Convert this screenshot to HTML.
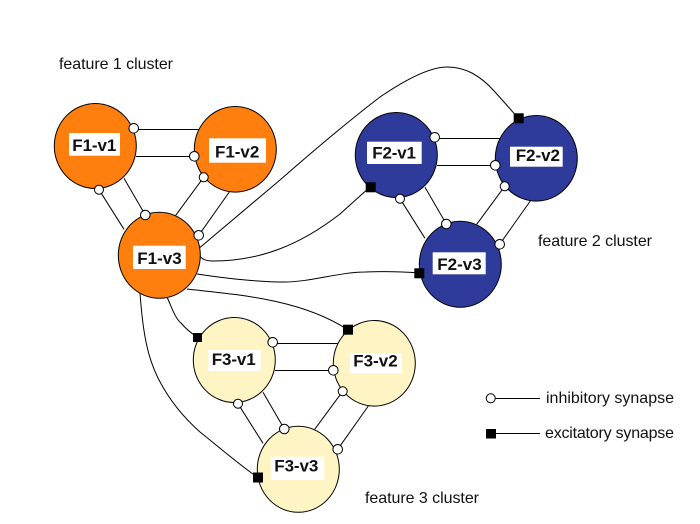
<!DOCTYPE html>
<html><head><meta charset="utf-8"><style>
html,body{margin:0;padding:0;background:#fff;width:700px;height:524px;overflow:hidden}
svg{display:block}
.t{font-family:"Liberation Sans",sans-serif;font-size:16px;fill:#111}
.b{font-family:"Liberation Sans",sans-serif;font-size:17px;font-weight:bold;fill:#111}
.l{stroke:#000;stroke-width:1;fill:none}
.n{stroke:#000;stroke-width:1}
.i{fill:#fff;stroke:#000;stroke-width:1}
</style></head><body>
<svg width="700" height="524" viewBox="0 0 700 524" xmlns="http://www.w3.org/2000/svg">
<rect width="700" height="524" fill="#fff"/>

<!-- long connectors -->
<path class="l" d="M197,250 L280,180 C320,145 350,120 380,97 C405,80 430,67 447,67 C465,67 480,75 495,92 Q505,103 518,118"/>
<path class="l" d="M200,256 Q203,261 213,261 C260,261 300,245 340,214 L370,187"/>
<path class="l" d="M197,274 C230,279 260,282 285,282 C310,282 340,272 365,272 Q395,271 419,273"/>
<path class="l" d="M187,289 C230,294 300,298 348,330"/>
<path class="l" d="M167,297 C172,308 175,318 181,323 C186,329 191,333 197,337"/>
<path class="l" d="M140,293 C143,335 148,358 158,378 C168,398 182,416 200,432 C220,448 240,465 257,477"/>

<!-- cluster 1 -->
<g>
<path class="l" d="M134,129.5H199M136,156.5H194M203.7,177.3L175.7,215.3M229.3,192L198.7,235.3M99,189.7L124,229.3M124,178.3L145.3,215"/>
<g fill="#ff7f0e" class="n">
<ellipse cx="95.3" cy="146" rx="41" ry="42.5"/>
<ellipse cx="235.3" cy="149.3" rx="41" ry="42.8"/>
<ellipse cx="159.3" cy="255.3" rx="41" ry="43"/>
</g>
<g class="i">
<circle cx="133.7" cy="128.3" r="4.8"/><circle cx="194.3" cy="156.3" r="4.8"/><circle cx="203.7" cy="177.3" r="4.5"/>
<circle cx="99" cy="189.7" r="4.5"/><circle cx="145.3" cy="215" r="4.8"/><circle cx="198.7" cy="235.3" r="4.8"/>
</g>
</g>

<!-- cluster 2 -->
<g transform="translate(301,9)">
<path class="l" d="M134,129.5H199M136,156.5H194M203.7,177.3L175.7,215.3M229.3,192L198.7,235.3M99,189.7L124,229.3M124,178.3L145.3,215"/>
<g fill="#2e3b9b" class="n">
<ellipse cx="95.3" cy="146" rx="41" ry="42.5"/>
<ellipse cx="235.3" cy="149.3" rx="41" ry="42.8"/>
<ellipse cx="159.3" cy="255.3" rx="41" ry="43"/>
</g>
<g class="i">
<circle cx="133.7" cy="128.3" r="4.8"/><circle cx="194.3" cy="156.3" r="4.8"/><circle cx="203.7" cy="177.3" r="4.5"/>
<circle cx="99" cy="189.7" r="4.5"/><circle cx="145.3" cy="215" r="4.8"/><circle cx="198.7" cy="235.3" r="4.8"/>
</g>
</g>

<!-- cluster 3 -->
<g transform="translate(139,214)">
<path class="l" d="M134,129.5H199M136,156.5H194M203.7,177.3L175.7,215.3M229.3,192L198.7,235.3M99,189.7L124,229.3M124,178.3L145.3,215"/>
<g fill="#fff5c4" class="n">
<ellipse cx="95.3" cy="146" rx="41" ry="42.5"/>
<ellipse cx="235.3" cy="149.3" rx="41" ry="42.8"/>
<ellipse cx="159.3" cy="255.3" rx="41" ry="43"/>
</g>
<g class="i">
<circle cx="133.7" cy="128.3" r="4.8"/><circle cx="194.3" cy="156.3" r="4.8"/><circle cx="203.7" cy="177.3" r="4.5"/>
<circle cx="99" cy="189.7" r="4.5"/><circle cx="145.3" cy="215" r="4.8"/><circle cx="198.7" cy="235.3" r="4.8"/>
</g>
</g>

<!-- excitatory squares -->
<g fill="#000">
<rect x="513.7" y="113.3" width="10" height="10"/>
<rect x="365.7" y="182.3" width="10" height="10"/>
<rect x="414.3" y="268.3" width="10" height="10"/>
<rect x="193" y="333" width="9" height="9"/>
<rect x="343" y="324.7" width="10" height="10"/>
<rect x="253" y="472.5" width="10" height="10"/>
</g>

<!-- node label boxes -->
<g fill="#fff">
<rect x="69" y="133" width="51" height="22.7"/>
<rect x="209" y="138.3" width="57" height="24.4"/>
<rect x="133" y="245.7" width="52.7" height="23.3"/>
<rect x="367" y="141.7" width="54.7" height="22.3"/>
<rect x="510" y="146.7" width="52.7" height="20"/>
<rect x="432.7" y="252.3" width="53" height="22"/>
<rect x="208.3" y="350" width="52.4" height="21"/>
<rect x="350" y="353.3" width="51.7" height="20"/>
<rect x="271" y="456.7" width="53.3" height="23.3"/>
</g>
<text class="b" x="72.3" y="151" textLength="44">F1-v1</text>
<text class="b" x="215" y="157.7" textLength="44.3">F1-v2</text>
<text class="b" x="137.3" y="264" textLength="44.4">F1-v3</text>
<text class="b" x="372.3" y="158.3" textLength="43.7">F2-v1</text>
<text class="b" x="515.7" y="161" textLength="44.3">F2-v2</text>
<text class="b" x="437.3" y="270" textLength="44.4">F2-v3</text>
<text class="b" x="211.7" y="365" textLength="44">F3-v1</text>
<text class="b" x="353.3" y="366.7" textLength="44.4">F3-v2</text>
<text class="b" x="274.3" y="471.7" textLength="44">F3-v3</text>

<!-- cluster labels -->
<text class="t" x="59" y="69" textLength="114">feature 1 cluster</text>
<text class="t" x="538" y="246" textLength="114">feature 2 cluster</text>
<text class="t" x="365" y="503" textLength="114">feature 3 cluster</text>

<!-- legend -->
<path class="l" d="M491,398.5H540M491,433.5H540"/>
<circle class="i" cx="490.7" cy="398.3" r="4.5"/>
<rect x="486" y="429" width="10" height="9.5" fill="#000"/>
<text class="t" x="546" y="403" textLength="128">inhibitory synapse</text>
<text class="t" x="545" y="438" textLength="129">excitatory synapse</text>
</svg>
</body></html>
